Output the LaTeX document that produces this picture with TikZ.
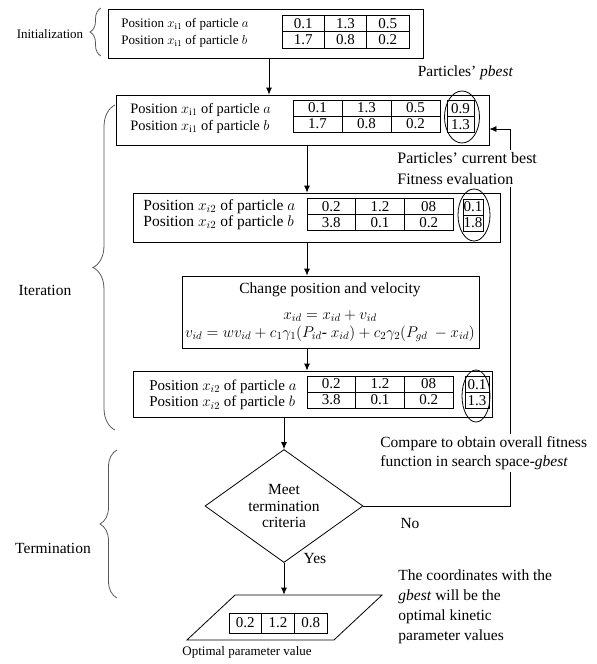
\documentclass[tikz,border=0pt]{standalone}
\usepackage{fix-cm}
\usepackage{fontspec}
\setmainfont{Liberation Serif}
\usepackage{tikz}
\usetikzlibrary{arrows.meta, positioning, matrix, shapes.geometric, decorations.pathreplacing, calc}
\tikzset{
    box/.style={draw, inner sep=0pt},
    txt/.style={align=left, anchor=west, inner sep=0pt},
    tbl/.style={matrix of nodes, inner sep=0pt, line width=0.8pt,
        column sep=-\pgflinewidth, row sep=-\pgflinewidth,
        nodes={draw, anchor=center, inner sep=0pt, minimum width=#1, minimum height=16pt,
            font=\fontsize{15}{15}\selectfont}},
    ellip/.style={draw, ellipse, inner sep=0pt},
    arr/.style={-{Latex[length=7pt, width=6pt]}},
    brc/.style={draw=black!65, decorate, decoration={brace, amplitude=#1}},
}

\begin{document}
\begin{tikzpicture}[x=1pt, y=-1pt, line width=0.8pt, font=\fontsize{15.5}{16.5}\selectfont]
    \useasboundingbox (0,0) rectangle (597,664);

    % main boxes
    \node[box, minimum width=315pt, minimum height=49pt] (box1) at (265.5,33.5) {};
    \node[box, minimum width=373pt, minimum height=50pt] (box2) at (302.5,120) {};
    \node[box, minimum width=367pt, minimum height=49pt] (box3) at (316.5,217.5) {};
    \node[box, minimum width=297pt, minimum height=72pt] (box4) at (330.5,312) {};
    \node[box, minimum width=359pt, minimum height=46pt] (box5) at (312.5,394) {};
    \node[box, diamond, aspect=1.4, minimum width=158pt, minimum height=113pt, align=center] (dia) at (284,506) {Meet\\termination\\criteria};
    \node[box, xslant=1.07, minimum width=147pt, minimum height=45pt] (par) at (284.5,617.5) {};

    % box contents
    \node[txt, font=\fontsize{13}{17}\selectfont] (pos1) at (121,32.5) {Position $x_{\mathrm{i}1}$ of particle $a$\\Position $x_{\mathrm{i}1}$ of particle $b$};
    \matrix (tab1) [tbl=42.3pt, nodes={minimum height=16.5pt}] at (345.5,31.5) {0.1 & 1.3 & 0.5\\ 1.7 & 0.8 & 0.2\\};

    \node[txt, font=\fontsize{14.4}{16.5}\selectfont] (pos2) at (130,118.5) {Position $x_{\mathrm{i}1}$ of particle $a$\\Position $x_{\mathrm{i}1}$ of particle $b$};
    \matrix (tab2) [tbl=49pt] at (366.5,116) {0.1 & 1.3 & 0.5\\ 1.7 & 0.8 & 0.2\\};
    \matrix (pb2) [tbl=27pt] at (460.5,116.5) {0.9\\ 1.3\\};
    \node[ellip, minimum width=35pt, minimum height=52pt] (el2) at (462,117) {};

    \node[txt] (pos3) at (143,214.5) {Position $x_{i2}$ of particle $a$\\Position $x_{i2}$ of particle $b$};
    \matrix (tab3) [tbl=48.7pt] at (380,214.5) {0.2 & 1.2 & 08\\ 3.8 & 0.1 & 0.2\\};
    \matrix (pb3) [tbl=20pt] at (473,215) {0.1\\ 1.8\\};
    \node[ellip, minimum width=32pt, minimum height=52pt] (el3) at (474,215) {};

    \node (chg) at (330,290) {Change position and velocity};
    \node[align=center, font=\fontsize{15.5}{18}\selectfont] (eqs) at (330,326)
        {$x_{id} = x_{id} + v_{id}$\\$v_{id} = wv_{id} + c_1\gamma_1(P_{id}\mbox{- } x_{id}) + c_2\gamma_2(P_{gd}\ - x_{id})$};

    \node[txt, font=\fontsize{15}{16.5}\selectfont] (pos5) at (149,395) {Position $x_{i2}$ of particle $a$\\Position $x_{i2}$ of particle $b$};
    \matrix (tab5) [tbl=48.7pt] at (380,392) {0.2 & 1.2 & 08\\ 3.8 & 0.1 & 0.2\\};
    \matrix (pb5) [tbl=24pt] at (477,392.5) {0.1\\ 1.3\\};
    \node[ellip, minimum width=28pt, minimum height=52pt] (el5) at (476,396) {};

    \matrix (opt) [tbl=32.7pt, nodes={minimum height=20pt}] at (278,623) {0.2 & 1.2 & 0.8\\};

    % connectors
    \coordinate (top) at (269,0);
    \coordinate (mid) at (307,0);
    \coordinate (fb) at (510,129);
    \draw[arr] (box1.south -| top) -- (box2.north -| top);
    \draw[arr] (box2.south -| mid) -- (box3.north -| mid);
    \draw[arr] (box3.south -| mid) -- (box4.north -| mid);
    \draw[arr] (box4.south -| mid) -- (box5.north -| mid);
    \draw[arr] (box5.south -| dia) -- (dia.north);
    \draw[arr] (dia.south) -- (dia.south |- par.north);
    \draw[arr] (dia.east) -| (fb) -- (fb -| box2.east);

    % side labels
    \node (pbest) at (465.5,73) {Particles' \textit{pbest}};
    \node[txt, fill=white, inner sep=2pt, font=\fontsize{16}{21}\selectfont] (cur) at (395,168.5) {Particles' current best\\Fitness evaluation};
    \node[txt, fill=white, inner sep=2pt, font=\fontsize{15.5}{19}\selectfont] (cmp) at (378,453) {Compare to obtain overall fitness\\function in search space-\textit{gbest}};
    \node (no) at (410,523) {No};
    \node (yes) at (315,558) {Yes};
    \node[txt, font=\fontsize{15.5}{20}\selectfont] (coord) at (398,607) {The coordinates with the\\\textit{gbest} will be the\\optimal kinetic\\parameter values};
    \node[font=\fontsize{13}{13}\selectfont] (optlbl) at (247,652) {Optimal parameter value};

    % phases
    \draw[brc=11pt] (101,56) -- (101,8);
    \draw[brc=22pt] (115,430) -- (115,105);
    \draw[brc=17pt] (117,598) -- (117,450);
    \node[font=\fontsize{13}{13}\selectfont] (init) at (50,34) {Initialization};
    \node (iter) at (45,290) {Iteration};
    \node (term) at (53,548) {Termination};
\end{tikzpicture}
\end{document}
